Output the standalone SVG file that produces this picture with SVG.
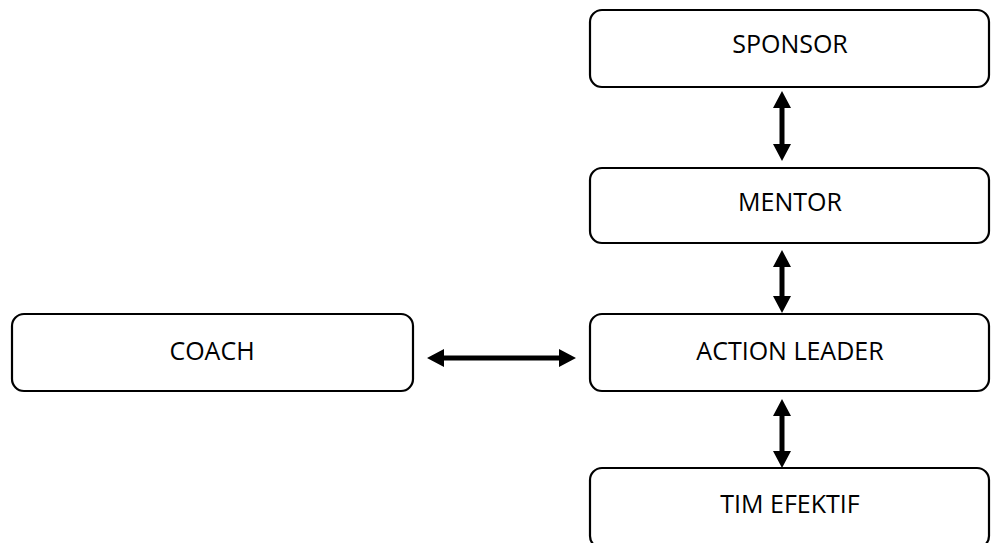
<svg xmlns="http://www.w3.org/2000/svg" width="991" height="543" viewBox="0 0 991 543">
<style>
.box{fill:#fff;stroke:#000;stroke-width:2.2}
.lbl{font-family:"Open Sans","Liberation Sans",sans-serif;font-size:25px;fill:#000;text-anchor:middle}
.arr{fill:#000;stroke:none}
</style>
<rect width="991" height="543" fill="#fff"/>
<g id="sponsor"><rect class="box" x="590" y="10" width="399" height="77" rx="12"/><text class="lbl" x="790" y="53">SPONSOR</text></g>
<g id="mentor"><rect class="box" x="590" y="168" width="399" height="75" rx="12"/><text class="lbl" x="790" y="211">MENTOR</text></g>
<g id="action-leader"><rect class="box" x="590" y="314" width="399" height="77" rx="12"/><text class="lbl" x="790" y="360">ACTION LEADER</text></g>
<g id="coach"><rect class="box" x="12" y="314" width="401" height="77" rx="12"/><text class="lbl" x="212" y="360">COACH</text></g>
<g id="tim-efektif"><rect class="box" x="590" y="468" width="399" height="80" rx="12"/><text class="lbl" x="790" y="513">TIM EFEKTIF</text></g>
<g id="connectors">
<polygon class="arr" points="782,91 791,108 784.5,108 784.5,144 791,144 782,161 773,144 779.5,144 779.5,108 773,108"/>
<polygon class="arr" points="782,250 791,267 784.5,267 784.5,296 791,296 782,313 773,296 779.5,296 779.5,267 773,267"/>
<polygon class="arr" points="782,399 791,416 784.5,416 784.5,451 791,451 782,468 773,451 779.5,451 779.5,416 773,416"/>
<polygon class="arr" points="427,358 444,349 444,355.5 559,355.5 559,349 576,358 559,367 559,360.5 444,360.5 444,367"/>
</g>
</svg>
